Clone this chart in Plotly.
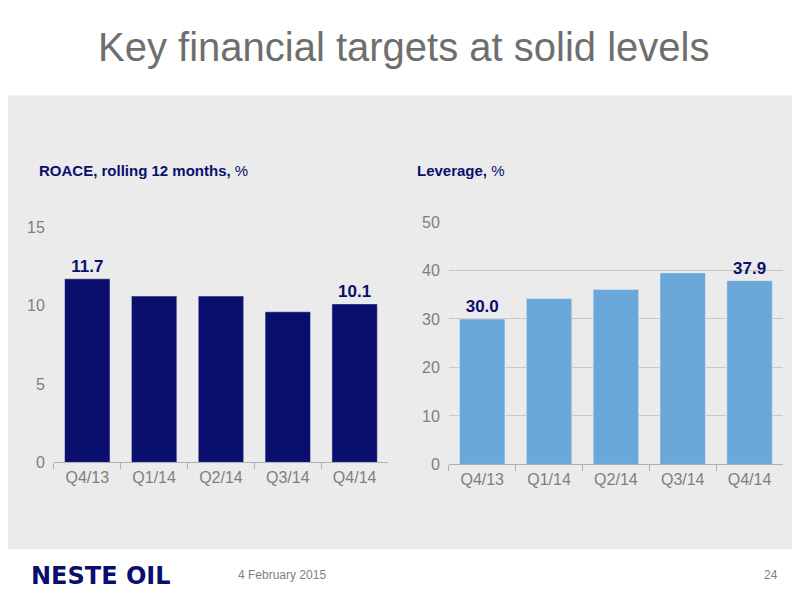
import plotly.graph_objects as go

quarters = ["Q4/13", "Q1/14", "Q2/14", "Q3/14", "Q4/14"]
roace = [11.7, 10.6, 10.6, 9.6, 10.1]
leverage = [30.0, 34.2, 36.1, 39.5, 37.9]
roace_labels = ["<b>11.7</b>", "", "", "", "<b>10.1</b>"]
leverage_labels = ["<b>30.0</b>", "", "", "", "<b>37.9</b>"]

NAVY = "#0a0f6e"
LIGHT = "#6aa8d9"
GREY = "#7f7f7f"


# map wanted screen pixels to paper coords (page renders with small offset/scale)
def px(x):
    return ((x - 9.7) / 0.9875) / 800


def py(y):
    return 1 - ((y - 15.5) / 0.974) / 600


fig = go.Figure()
fig.add_bar(x=quarters, y=roace, marker_color=NAVY, width=0.68,
            text=roace_labels, textposition="outside", cliponaxis=False,
            textfont=dict(color=NAVY, size=17, family="Liberation Sans"),
            xaxis="x", yaxis="y")
fig.add_bar(x=quarters, y=leverage, marker_color=LIGHT, width=0.68,
            text=leverage_labels, textposition="outside", cliponaxis=False,
            textfont=dict(color=NAVY, size=17, family="Liberation Sans"),
            xaxis="x2", yaxis="y2")

tick_font = dict(color=GREY, size=16, family="Liberation Sans")
xcommon = dict(showline=True, linecolor="#b0b0b0", ticks="outside", ticklen=6,
               tickcolor="#b0b0b0", tickfont=tick_font, showgrid=False,
               tickson="boundaries")
fig.update_layout(
    width=800, height=600, margin=dict(l=0, r=0, t=0, b=0),
    paper_bgcolor="white", plot_bgcolor="rgba(0,0,0,0)",
    showlegend=False, bargap=0.3,
    font=dict(family="Liberation Sans"),
    xaxis=dict(domain=[px(55), px(385)], anchor="y", **xcommon),
    yaxis=dict(domain=[py(463), py(227)], range=[0, 15], dtick=5, showgrid=False,
               tickfont=tick_font, anchor="x", zeroline=False, ticklabelstandoff=8),
    xaxis2=dict(domain=[px(445), px(775)], anchor="y2", **xcommon),
    yaxis2=dict(domain=[py(465), py(222)], range=[0, 50], dtick=10, showgrid=True,
                gridcolor="#c8c8c8", tickfont=tick_font, anchor="x2", zeroline=False,
                ticklabelstandoff=8),
    shapes=[dict(type="rect", xref="paper", yref="paper", x0=-0.05, x1=1.05,
                 y0=py(550), y1=py(95), fillcolor="#ebebeb",
                 line_width=0, layer="below")],
    annotations=[
        dict(text="Key financial targets at solid levels", x=px(400), y=py(47),
             xref="paper", yref="paper", showarrow=False, yanchor="middle",
             font=dict(size=40, color="#6e6e6e")),
        dict(text="<b>ROACE, rolling 12 months,</b> %", x=px(38), y=py(170),
             xref="paper", yref="paper", showarrow=False, xanchor="left",
             yanchor="middle", font=dict(size=15, color=NAVY)),
        dict(text="<b>Leverage,</b> %", x=px(412), y=py(170),
             xref="paper", yref="paper", showarrow=False, xanchor="left",
             yanchor="middle", font=dict(size=15, color=NAVY)),
        dict(text="<b>NESTE OIL</b>", x=px(30), y=py(577),
             xref="paper", yref="paper", showarrow=False, xanchor="left",
             yanchor="middle",
             font=dict(size=24, color=NAVY, family="DejaVu Sans")),
        dict(text="4 February 2015", x=px(235), y=py(576),
             xref="paper", yref="paper", showarrow=False, xanchor="left",
             yanchor="middle", font=dict(size=12, color=GREY)),
        dict(text="24", x=px(772), y=py(576),
             xref="paper", yref="paper", showarrow=False, xanchor="right",
             yanchor="middle", font=dict(size=12, color=GREY)),
    ],
)

fig.write_html("out.html")
